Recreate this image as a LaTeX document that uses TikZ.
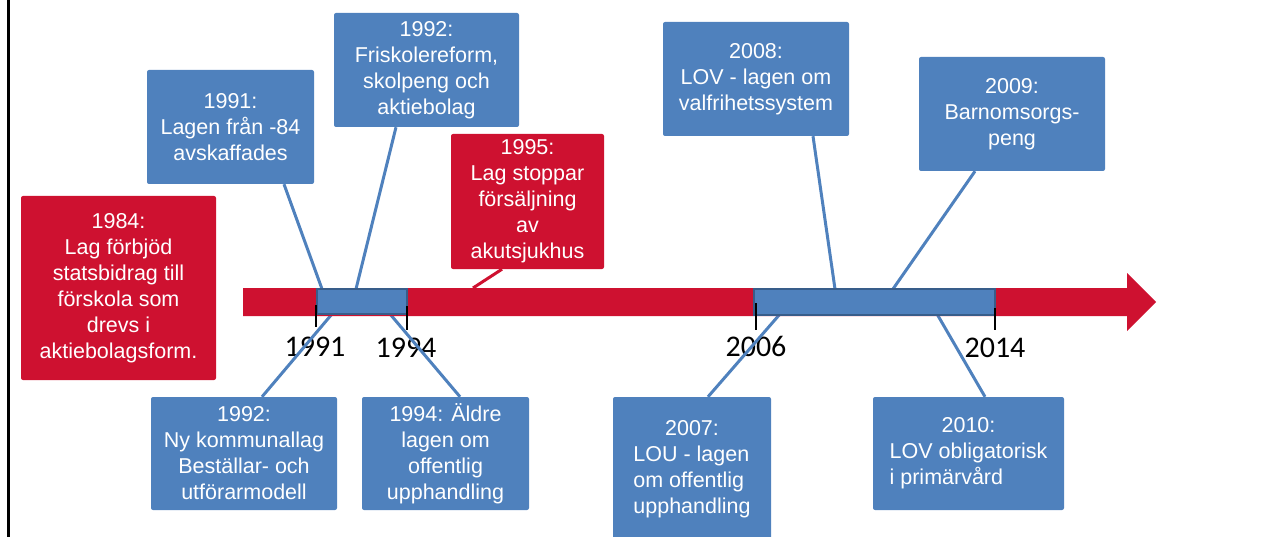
\documentclass[tikz,border=0pt]{standalone}
\usepackage{fontspec}
\setmainfont{Liberation Sans}
\newfontfamily\yearfont{Carlito}
\definecolor{tlblue}{RGB}{79,129,189}
\definecolor{tlred}{RGB}{206,17,48}
\definecolor{tldark}{RGB}{56,93,138}
\begin{document}
\begin{tikzpicture}[x=1pt,y=-1pt,
  box/.style={rectangle, rounded corners=2pt, inner sep=0pt, text=white,
    font=\fontsize{21.5}{26}\selectfont, align=center},
  bluebox/.style={box, fill=tlblue},
  redbox/.style={box, fill=tlred},
  conn/.style={draw=tlblue, line width=3pt},
  rconn/.style={draw=tlred, line width=3pt},
  yearlabel/.style={font=\yearfont\fontsize{30}{36}\selectfont, inner sep=0pt, text=black},
  tickline/.style={draw=black, line width=1.5pt},
  segment/.style={draw=tldark, fill=tlblue, line width=1.5pt}]

\useasboundingbox (0,0) rectangle (1276,537);

% left frame line
\draw[black, line width=2.5pt] (8.5,0) -- (8.5,537);

% boxes
\node[redbox, minimum width=195pt, minimum height=184pt] (r1984) at (118.5,288)
  {1984:\\Lag förbjöd\\statsbidrag till\\förskola som\\drevs i\\aktiebolagsform.};
\node[bluebox, minimum width=167pt, minimum height=114pt] (b1991) at (230.5,127)
  {1991:\\Lagen från -84\\avskaffades};
\node[bluebox, minimum width=185pt, minimum height=114pt] (b1992t) at (426.5,70)
  {1992:\\Friskolereform,\\skolpeng och\\aktiebolag};
\node[redbox, minimum width=153pt, minimum height=135pt] (r1995) at (527.5,201.5)
  {1995:\\Lag stoppar\\försäljning\\av\\akutsjukhus};
\node[bluebox, minimum width=186pt, minimum height=114pt] (b2008) at (756,79)
  {2008:\\LOV - lagen om\\valfrihetssystem};
\node[bluebox, minimum width=186pt, minimum height=114pt] (b2009) at (1012,114)
  {2009:\\Barnomsorgs-\\peng};
\node[bluebox, minimum width=186pt, minimum height=113pt] (b1992b) at (244,453.5)
  {1992:\\Ny kommunallag\\Beställar- och\\utförarmodell};
\node[bluebox, minimum width=167pt, minimum height=113pt] (b1994) at (445.5,453.5)
  {1994: Äldre\\lagen om\\offentlig\\upphandling};
\node[bluebox, minimum width=158pt, minimum height=144pt] (b2007) at (692,469)
  {\begin{tabular}{@{}l@{}}\multicolumn{1}{@{}c@{}}{2007:}\\LOU - lagen\\om offentlig\\upphandling\end{tabular}};
\node[bluebox, minimum width=191pt, minimum height=113pt] (b2010) at (968.5,453.5)
  {\begin{tabular}{@{}l@{}}\multicolumn{1}{@{}c@{}}{2010:}\\LOV obligatorisk\\i primärvård\end{tabular}};

% year labels
\node[yearlabel] (y1991) at (315,347) {1991};
\node[yearlabel] (y1994) at (406,348) {1994};
\node[yearlabel] (y2006) at (756,346) {2006};
\node[yearlabel] (y2014) at (995,348) {2014};

% attachment points on the bar
\coordinate (p1991) at (322,289);
\coordinate (p1992t) at (356,289);
\coordinate (p1995) at (473,288);
\coordinate (p2008) at (835,289);
\coordinate (p2009) at (893,289);
\coordinate (p1992b) at (332,314);
\coordinate (p1994) at (390,314);
\coordinate (p2007) at (780,314);
\coordinate (p2010) at (937,314);

% connectors
\draw[conn] ([xshift=53.5pt]b1991.south) -- (p1991);
\draw[conn] ([xshift=-30.5pt]b1992t.south) -- (p1992t);
\draw[rconn] ([xshift=-25.5pt]r1995.south) -- (p1995);
\draw[conn] ([xshift=57pt]b2008.south) -- (p2008);
\draw[conn] ([xshift=-37pt]b2009.south) -- (p2009);
\draw[conn] (p1992b) -- ([xshift=18pt]b1992b.north);
\draw[conn] (p1994) -- ([xshift=14.5pt]b1994.north);
\draw[conn] (p2007) -- ([xshift=16pt]b2007.north);
\draw[conn] (p2010) -- ([xshift=16.5pt]b2010.north);

% timeline arrow
\fill[tlred] (243,288) -- (1127,288) -- (1127,273) -- (1156,302) -- (1127,331)
  -- (1127,316) -- (243,316) -- cycle;
\draw[segment] (317,289) rectangle (407,314);
\draw[segment] (754,289) rectangle (995,315);

% ticks
\draw[tickline] (316,305) -- (316,327);
\draw[tickline] (407,306) -- (407,330);
\draw[tickline] (756,303) -- (756,330);
\draw[tickline] (995,308) -- (995,330);
\end{tikzpicture}
\end{document}
